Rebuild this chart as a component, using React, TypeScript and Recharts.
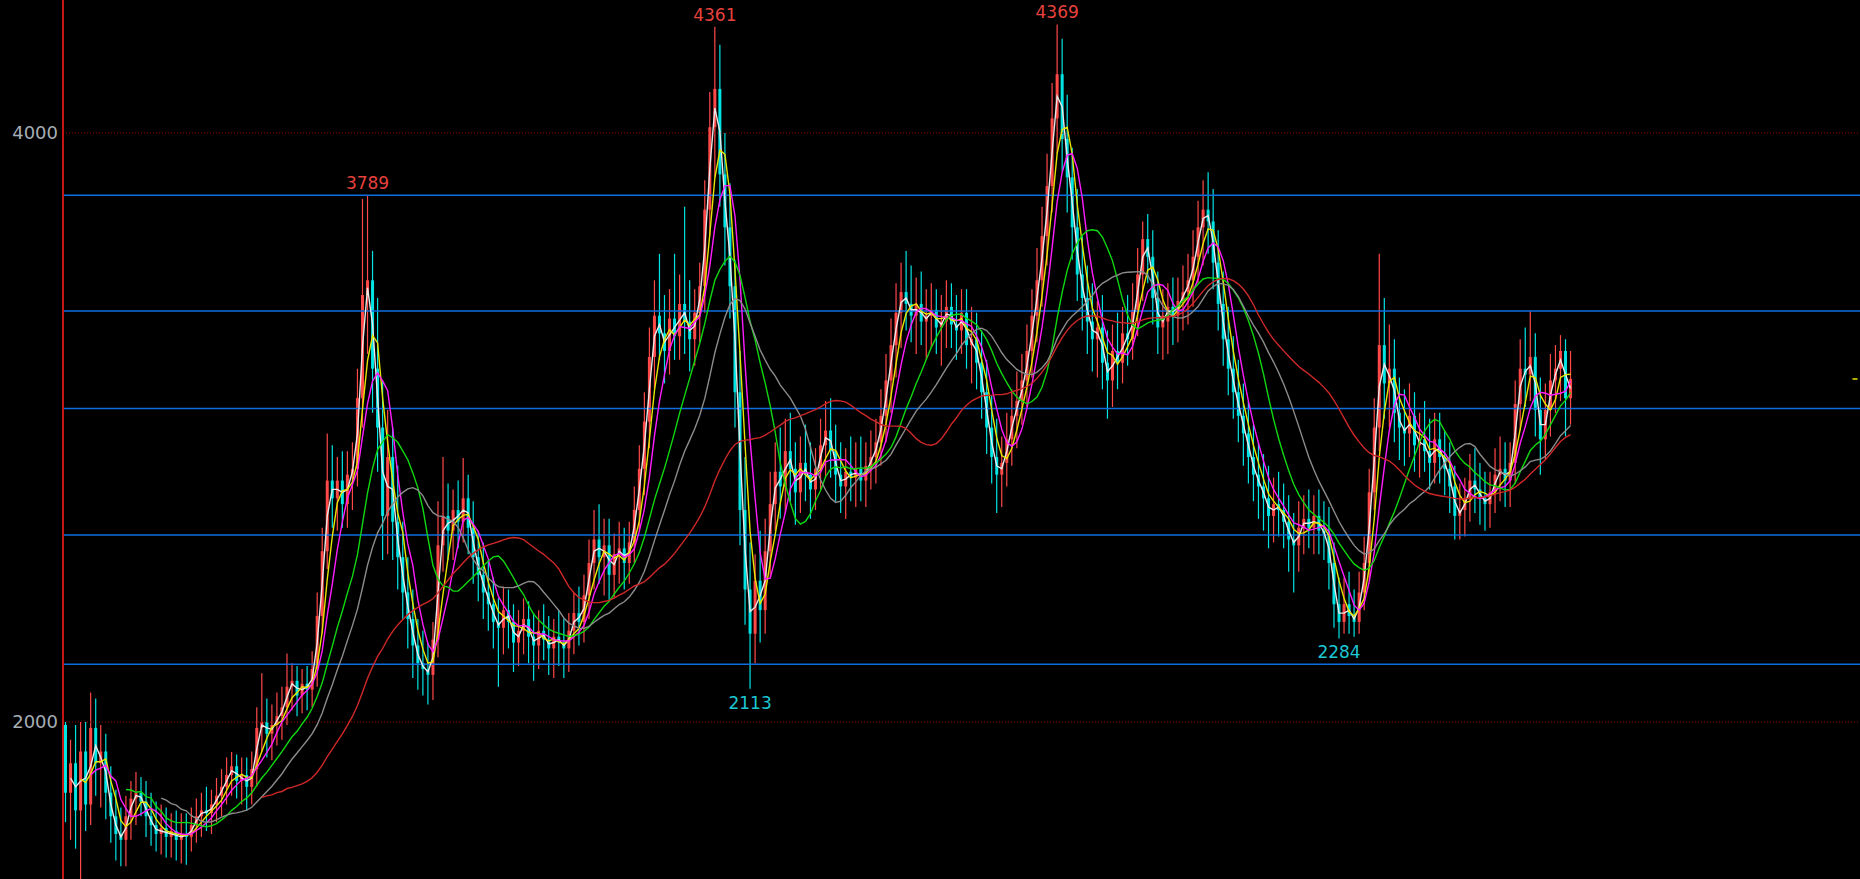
import { ComposedChart, Bar, Line, XAxis, YAxis, ReferenceLine, ReferenceDot } from 'recharts';

// candle values (one candle ~ 5px)
const OPEN = [
  1990, 1760, 1860, 1700, 1900, 1720, 1980, 1860, 1900, 1760,
  1680, 1620, 1600, 1680, 1740, 1760, 1730, 1680, 1650, 1620,
  1640, 1610, 1630, 1600, 1620, 1610, 1650, 1680, 1700, 1690,
  1720, 1750, 1780, 1820, 1850, 1800, 1820, 1780, 1840, 1980,
  2000, 1960, 1990, 2020, 2050, 2120, 2140, 2090, 2130, 2110,
  2180, 2360, 2580, 2820, 2760, 2820, 2740, 2840, 2860, 3100,
  3450, 3500, 3200, 3000, 2700, 2900, 2680, 2560, 2440, 2350,
  2260, 2200, 2180, 2160, 2280, 2600, 2700, 2650, 2720, 2680,
  2760, 2660, 2560, 2500, 2440, 2400, 2340, 2320, 2380, 2340,
  2270, 2310, 2350, 2290, 2260, 2310, 2280, 2250, 2290, 2270,
  2250, 2310, 2370, 2340, 2430, 2540, 2620, 2560, 2600, 2500,
  2570, 2590, 2540, 2610, 2720, 2860, 3020, 3240, 3380, 3320,
  3260, 3370, 3310, 3420, 3360, 3300, 3390, 3480, 3740, 4020,
  4150, 3860, 3680, 3480, 3120, 2720, 2450, 2300, 2480, 2380,
  2580, 2740, 2850, 2800, 2920, 2860, 2780, 2880, 2840, 2790,
  2860, 2940, 2990, 2920, 2840, 2800, 2850, 2830, 2860, 2820,
  2870, 2900, 2950, 3040, 3160, 3280, 3390, 3460, 3420, 3380,
  3420, 3360, 3380, 3400, 3340, 3360, 3410, 3350, 3330, 3390,
  3280, 3300, 3220, 3120, 3000, 2900, 2840, 2880, 2960, 3040,
  3090, 3160, 3260, 3380, 3500, 3650, 3820, 4050, 4200, 3980,
  3850, 3680, 3520, 3440, 3360, 3300, 3340, 3220, 3160, 3260,
  3220, 3320, 3300, 3400, 3520, 3640, 3580, 3440, 3340, 3360,
  3410, 3380, 3430, 3460, 3500, 3580, 3680, 3740, 3700, 3560,
  3420, 3300, 3200, 3120, 3040, 2980, 2900, 2840, 2800, 2760,
  2700, 2740, 2720, 2680, 2620, 2600, 2660, 2690, 2660, 2700,
  2650, 2640, 2540, 2400, 2340, 2400, 2360, 2340, 2440, 2540,
  2780, 3000, 3280, 3150, 3200, 3050, 3000, 2980, 3040, 2940,
  2960, 2920, 2880, 2960, 2900, 2860, 2800, 2700, 2720, 2760,
  2820, 2790, 2760, 2740, 2780, 2840, 2860, 2820, 2880, 3080,
  3200, 3180, 3240, 3060, 2960, 3060, 3160, 3200, 3260, 3100,
];

const HIGH = [
  2000, 1940, 1990, 2000, 2000, 2100, 2080, 1990, 1960, 1850,
  1770, 1710, 1750, 1800, 1830, 1813, 1800, 1760, 1730, 1720,
  1710, 1690, 1700, 1690, 1690, 1710, 1740, 1760, 1780, 1770,
  1810, 1840, 1880, 1898, 1890, 1880, 1880, 1900, 2050, 2166,
  2080, 2060, 2100, 2120, 2233, 2200, 2190, 2180, 2190, 2240,
  2440, 2660, 2980, 2940, 2900, 2920, 2920, 2950, 3200, 3776,
  3789, 3600, 3440, 3160, 3060, 3000, 2870, 2680, 2560, 2450,
  2350, 2310, 2270, 2340, 2750, 2900, 2810, 2790, 2820, 2897,
  2840, 2750, 2650, 2610, 2550, 2490, 2420, 2460, 2450, 2400,
  2380, 2420, 2410, 2370, 2380, 2400, 2360, 2350, 2380, 2350,
  2370, 2440, 2460, 2500, 2620, 2720, 2740, 2690, 2690, 2640,
  2680, 2660, 2680, 2800, 2940, 3120, 3340, 3500, 3590, 3450,
  3470, 3590, 3520, 3750, 3500, 3470, 3560, 3840, 4140, 4361,
  4300, 4000, 3830, 3570, 3260, 2900, 2610, 2570, 2650, 2690,
  2850, 2950, 3000, 3030, 3050, 2950, 2970, 3010, 2950, 2930,
  3030, 3090, 3100, 3010, 2950, 2930, 2970, 2950, 2970, 2950,
  2990, 3030, 3130, 3250, 3370, 3490, 3560, 3600, 3550, 3510,
  3530, 3470, 3490, 3470, 3450, 3500, 3490, 3450, 3470, 3470,
  3410, 3390, 3330, 3230, 3110, 3030, 2970, 3050, 3130, 3190,
  3250, 3350, 3470, 3610, 3750, 3930, 4170, 4369, 4320, 4130,
  3950, 3810, 3650, 3550, 3490, 3430, 3450, 3330, 3350, 3390,
  3410, 3450, 3490, 3610, 3700, 3725, 3670, 3530, 3470, 3490,
  3510, 3510, 3550, 3590, 3670, 3770, 3840, 3867, 3810, 3670,
  3530, 3410, 3310, 3230, 3150, 3090, 3010, 2950, 2910, 2870,
  2830, 2850, 2810, 2770, 2710, 2750, 2770, 2790, 2770, 2790,
  2750, 2730, 2610, 2490, 2490, 2510, 2450, 2510, 2630, 2860,
  3100, 3590, 3440, 3350, 3300, 3170, 3130, 3150, 3120, 3050,
  3090, 3030, 3050, 3050, 2990, 2950, 2870, 2810, 2830, 2910,
  2930, 2880, 2850, 2850, 2930, 2970, 2950, 2950, 3160, 3300,
  3340, 3396, 3320, 3170, 3150, 3250, 3280, 3314, 3300, 3260,
];

const LOW = [
  1660, 1600, 1570, 1460, 1630, 1650, 1750, 1710, 1670, 1590,
  1530, 1510, 1510, 1600, 1650, 1680, 1610, 1580, 1560, 1550,
  1540, 1540, 1530, 1520, 1515, 1560, 1590, 1610, 1630, 1620,
  1660, 1680, 1720, 1750, 1740, 1720, 1700, 1720, 1780, 1900,
  1880, 1870, 1920, 1940, 1990, 2040, 2020, 2030, 2040, 2050,
  2120, 2300, 2520, 2660, 2650, 2660, 2660, 2720, 2800, 3000,
  3250, 3050, 2850, 2550, 2570, 2550, 2450, 2350, 2250, 2150,
  2110, 2090, 2060, 2075, 2220, 2510, 2550, 2550, 2590, 2610,
  2570, 2470, 2410, 2350, 2310, 2250, 2120, 2230, 2250, 2170,
  2190, 2230, 2200, 2140, 2180, 2210, 2160, 2150, 2190, 2150,
  2170, 2230, 2260, 2270, 2350, 2450, 2470, 2430, 2410, 2420,
  2470, 2450, 2470, 2540, 2650, 2770, 2930, 3130, 3230, 3150,
  3180, 3230, 3230, 3250, 3190, 3210, 3290, 3390, 3650, 3850,
  3750, 3550, 3370, 3000, 2600, 2330, 2113, 2200, 2270, 2300,
  2490, 2650, 2690, 2710, 2750, 2670, 2710, 2750, 2690, 2720,
  2790, 2830, 2830, 2750, 2710, 2690, 2750, 2730, 2750, 2730,
  2790, 2810, 2870, 2950, 3050, 3170, 3270, 3330, 3290, 3250,
  3280, 3230, 3270, 3250, 3210, 3270, 3270, 3230, 3250, 3200,
  3150, 3130, 3030, 2910, 2810, 2710, 2730, 2800, 2870, 2930,
  3010, 3070, 3170, 3290, 3410, 3550, 3730, 3930, 3870, 3730,
  3570, 3430, 3330, 3250, 3190, 3170, 3130, 3030, 3070, 3130,
  3150, 3210, 3230, 3310, 3430, 3490, 3350, 3250, 3230, 3250,
  3280, 3290, 3330, 3350, 3410, 3490, 3550, 3590, 3470, 3330,
  3210, 3110, 3030, 2950, 2870, 2810, 2750, 2690, 2650, 2590,
  2610, 2630, 2590, 2510, 2440, 2510, 2570, 2590, 2570, 2570,
  2550, 2450, 2320, 2284, 2300, 2300, 2290, 2300, 2380, 2480,
  2720, 2920, 3030, 3000, 2950, 2890, 2870, 2900, 2850, 2830,
  2850, 2790, 2810, 2810, 2770, 2710, 2620, 2620, 2630, 2680,
  2710, 2670, 2650, 2660, 2710, 2750, 2730, 2730, 2810, 2990,
  3070, 3090, 2970, 2840, 2890, 2970, 3050, 3090, 2970, 3010,
];

const CLOSE = [
  1760, 1860, 1700, 1900, 1720, 1980, 1860, 1900, 1760, 1680,
  1620, 1600, 1680, 1740, 1760, 1730, 1680, 1650, 1620, 1640,
  1610, 1630, 1600, 1620, 1610, 1650, 1680, 1700, 1690, 1720,
  1750, 1780, 1820, 1850, 1800, 1820, 1780, 1840, 1980, 2000,
  1960, 1990, 2020, 2050, 2120, 2140, 2090, 2130, 2110, 2180,
  2360, 2580, 2820, 2760, 2820, 2740, 2840, 2860, 3100, 3450,
  3500, 3200, 3000, 2700, 2900, 2680, 2560, 2440, 2350, 2260,
  2200, 2180, 2160, 2280, 2600, 2700, 2650, 2720, 2680, 2760,
  2660, 2560, 2500, 2440, 2400, 2340, 2320, 2380, 2340, 2270,
  2310, 2350, 2290, 2260, 2310, 2280, 2250, 2290, 2270, 2250,
  2310, 2370, 2340, 2430, 2540, 2620, 2560, 2600, 2500, 2570,
  2590, 2540, 2610, 2720, 2860, 3020, 3240, 3380, 3320, 3260,
  3370, 3310, 3420, 3360, 3300, 3390, 3480, 3740, 4020, 4150,
  3860, 3680, 3480, 3120, 2720, 2450, 2300, 2480, 2380, 2580,
  2740, 2850, 2800, 2920, 2860, 2780, 2880, 2840, 2790, 2860,
  2940, 2990, 2920, 2840, 2800, 2850, 2830, 2860, 2820, 2870,
  2900, 2950, 3040, 3160, 3280, 3390, 3460, 3420, 3380, 3420,
  3360, 3380, 3400, 3340, 3360, 3410, 3350, 3330, 3390, 3280,
  3300, 3220, 3120, 3000, 2900, 2840, 2880, 2960, 3040, 3090,
  3160, 3260, 3380, 3500, 3650, 3820, 4050, 4200, 3980, 3850,
  3680, 3520, 3440, 3360, 3300, 3340, 3220, 3160, 3260, 3220,
  3320, 3300, 3400, 3520, 3640, 3580, 3440, 3340, 3380, 3410,
  3380, 3430, 3460, 3500, 3580, 3680, 3740, 3700, 3560, 3420,
  3300, 3200, 3120, 3040, 2980, 2900, 2840, 2800, 2760, 2700,
  2740, 2720, 2680, 2620, 2600, 2660, 2690, 2660, 2700, 2650,
  2640, 2540, 2400, 2340, 2400, 2360, 2340, 2440, 2540, 2780,
  3000, 3280, 3150, 3200, 3050, 3000, 2980, 3040, 2940, 2960,
  2920, 2880, 2960, 2900, 2860, 2800, 2700, 2720, 2760, 2820,
  2790, 2760, 2740, 2780, 2840, 2860, 2820, 2880, 3080, 3200,
  3180, 3240, 3060, 2960, 3060, 3160, 3200, 3260, 3100, 3165,
];

const Y_TICKS = [2000, 4000];
const GRID_LEVELS = [4000, 2000];
const BLUE_LEVELS = [3789, 3396, 3065, 2635, 2196];

// moving averages over the closes (periods scaled to the candle density used here)
const MA_LINES = [
  { key: 'ma2', period: 2, color: '#e8e8e8' },
  { key: 'ma4', period: 4, color: '#e6e600' },
  { key: 'ma6', period: 6, color: '#ff1cff' },
  { key: 'ma13', period: 13, color: '#10d810' },
  { key: 'ma20', period: 20, color: '#8c8c8c' },
  { key: 'ma40', period: 40, color: '#d02828' },
];

const HIGH_MARKS = [60, 129, 197];
const LOW_MARKS = [136, 253];
const EMPTY_SLOTS = 57; // blank space right of the last candle

const UP = '#ff4848';
const DOWN = '#00e4e4';
const FONT = '"DejaVu Sans", Verdana, sans-serif';

const movingAvg = (period: number, idx: number) => {
  if (idx < period - 1) return null;
  let sum = 0;
  for (let k = idx - period + 1; k <= idx; k++) sum += CLOSE[k];
  return sum / period;
};

const data = Array.from({ length: CLOSE.length + EMPTY_SLOTS }, (_, i) => {
  if (i >= CLOSE.length) return { i };
  const row: Record<string, any> = {
    i,
    open: OPEN[i],
    high: HIGH[i],
    low: LOW[i],
    close: CLOSE[i],
    range: [LOW[i], HIGH[i]],
  };
  MA_LINES.forEach((m) => {
    row[m.key] = movingAvg(m.period, i);
  });
  return row;
});

const lastIndex = data.length - 1;
const lastClose = CLOSE[CLOSE.length - 1];

function Candle(props: any) {
  const { x, y, width, height, payload } = props;
  if (!payload || payload.open == null || height == null) return null;
  const { open, close, high, low } = payload;
  const top = Math.min(y, y + height);
  const h = Math.abs(height);
  const span = high - low || 1;
  const toY = (v: number) => top + ((high - v) / span) * h;
  const color = close >= open ? UP : DOWN;
  const cx = x + width / 2;
  const bodyTop = toY(Math.max(open, close));
  const bodyH = Math.max(1, toY(Math.min(open, close)) - bodyTop);
  return (
    <g>
      <line x1={cx} x2={cx} y1={top} y2={top + h} stroke={color} strokeWidth={1.2} />
      <rect x={cx - 1.5} y={bodyTop} width={3} height={bodyH} fill={color} />
    </g>
  );
}

export default function App() {
  return (
    <div style={{ position: 'fixed', left: 0, top: 0, width: 1860, height: 879, background: '#000' }}>
      <ComposedChart
        width={1860}
        height={879}
        data={data}
        margin={{ top: 0, right: 0, bottom: 0, left: 0 }}
        barCategoryGap={0}
      >
        <XAxis dataKey="i" hide />
        <YAxis
          width={63}
          domain={[1467, 4452]}
          allowDataOverflow
          ticks={Y_TICKS}
          tickLine={false}
          tickSize={0}
          tickMargin={5}
          axisLine={{ stroke: '#c41414', strokeWidth: 2 }}
          tick={{ fill: '#a6aeb6', fontSize: 18, fontFamily: FONT }}
        />
        {GRID_LEVELS.map((v) => (
          <ReferenceLine key={`g${v}`} y={v} stroke="#a00000" strokeDasharray="1 2" />
        ))}
        {BLUE_LEVELS.map((v) => (
          <ReferenceLine key={`b${v}`} y={v} stroke="#0d6ee0" strokeWidth={1.5} />
        ))}
        <Bar dataKey="range" shape={<Candle />} isAnimationActive={false} />
        {MA_LINES.map((m) => (
          <Line
            key={m.key}
            type="linear"
            dataKey={m.key}
            stroke={m.color}
            strokeWidth={1.4}
            dot={false}
            activeDot={false}
            isAnimationActive={false}
          />
        ))}
        {HIGH_MARKS.map((i) => (
          <ReferenceDot
            key={`h${i}`}
            x={i}
            y={HIGH[i]}
            r={0}
            fill="none"
            stroke="none"
            label={{ value: String(HIGH[i]), position: 'top', offset: 6, fill: '#e8423c', fontSize: 17, fontFamily: FONT }}
          />
        ))}
        {LOW_MARKS.map((i) => (
          <ReferenceDot
            key={`l${i}`}
            x={i}
            y={LOW[i]}
            r={0}
            fill="none"
            stroke="none"
            label={{ value: String(LOW[i]), position: 'bottom', offset: 8, fill: '#1cc8d4', fontSize: 17, fontFamily: FONT }}
          />
        ))}
        <ReferenceLine
          segment={[{ x: lastIndex - 1, y: lastClose }, { x: lastIndex, y: lastClose }]}
          stroke="#e6e600"
          strokeWidth={1.5}
        />
      </ComposedChart>
    </div>
  );
}
